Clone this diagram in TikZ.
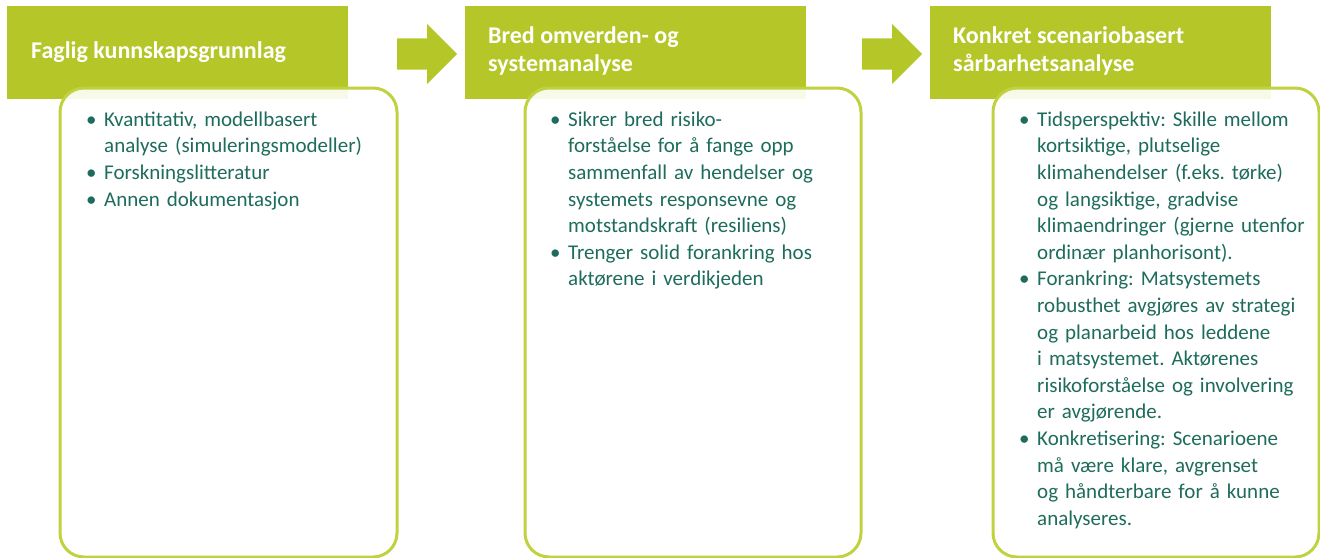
\documentclass[tikz,border=0pt]{standalone}
\usepackage{fontspec}
\setmainfont{Carlito}
\usetikzlibrary{shapes.arrows}

\definecolor{hdgreen}{RGB}{181,198,40}
\definecolor{bxgreen}{RGB}{192,210,64}
\definecolor{txteal}{RGB}{30,108,92}

% one bullet point with hanging lines
\newcommand{\bpt}[1]{\par\noindent\hangindent=18pt\hangafter=1%
  \makebox[18pt][l]{\strut\textbullet}#1}

\begin{document}
\begin{tikzpicture}[x=1pt, y=-1pt,
                    hdbox/.style={fill=hdgreen, inner sep=0pt, anchor=north west},
                    hdtext/.style={inner sep=0pt, anchor=north west, align=left, text=white,
                                   font=\fontsize{24}{28.5}\selectfont\bfseries},
                    bxbox/.style={draw=bxgreen, line width=3pt, fill=white, fill opacity=0.9,
                                  rounded corners=24pt, inner sep=0pt, anchor=north west},
                    bxtext/.style={inner sep=0pt, anchor=north west, text width=330pt,
                                   text=txteal, font=\fontsize{21}{26.6}\selectfont\frenchspacing},
                    stepar/.style={single arrow, fill=hdgreen, inner xsep=0pt, inner ysep=15.5pt,
                                   anchor=tail, minimum height=60pt, minimum width=60pt,
                                   single arrow head extend=14.5pt, single arrow tip angle=90}]
    \useasboundingbox (0,0) rectangle (1320,557);

    % Define header boxes
    \node[hdbox, minimum width=341pt, minimum height=93pt] (h1) at (7,6) {}; % Stage 1
    \node[hdbox, minimum width=341pt, minimum height=93pt] (h2) at (465,6) {}; % Stage 2
    \node[hdbox, minimum width=341pt, minimum height=93pt] (h3) at (930,6) {}; % Stage 3

    % Define content boxes
    \node[bxbox, minimum width=337pt, minimum height=469pt] (b1) at (58.5,86.5) {};
    \node[bxbox, minimum width=336pt, minimum height=469pt] (b2) at (523.5,86.5) {};
    \node[bxbox, minimum width=326pt, minimum height=469pt] (b3) at (991.5,86.5) {};

    % Define arrows between stages
    \node[stepar] (a1) at (397,54) {};
    \node[stepar] (a2) at (862,54) {};

    % Header texts
    \node[hdtext] (ht1) at (31,38) {\strut Faglig kunnskapsgrunnlag};
    \node[hdtext] (ht2) at (488,23) {\strut Bred omverden- og\\systemanalyse};
    \node[hdtext] (ht3) at (953,23) {\strut Konkret scenariobasert\\sårbarhetsanalyse};

    % Content texts
    \node[bxtext] (bt1) at (86,99.5) {%
      \bpt{Kvantitativ, modellbasert\newline analyse (simuleringsmodeller)}
      \bpt{Forskningslitteratur}
      \bpt{Annen dokumentasjon}\par};
    \node[bxtext] (bt2) at (550,99.5) {%
      \bpt{Sikrer bred risiko-\newline forståelse for å fange opp\newline sammenfall av hendelser og\newline systemets responsevne og\newline motstandskraft (resiliens)}
      \bpt{Trenger solid forankring hos\newline aktørene i verdikjeden}\par};
    \node[bxtext] (bt3) at (1019,99.5) {%
      \bpt{Tidsperspektiv: Skille mellom\newline kortsiktige, plutselige\newline klimahendelser (f.eks. tørke)\newline og langsiktige, gradvise\newline klimaendringer (gjerne utenfor\newline ordinær planhorisont).}
      \bpt{Forankring: Matsystemets\newline robusthet avgjøres av strategi\newline og planarbeid hos leddene\newline i matsystemet. Aktørenes\newline risikoforståelse og involvering\newline er avgjørende.}
      \bpt{Konkretisering: Scenarioene\newline må være klare, avgrenset\newline og håndterbare for å kunne\newline analyseres.}\par};
\end{tikzpicture}
\end{document}
